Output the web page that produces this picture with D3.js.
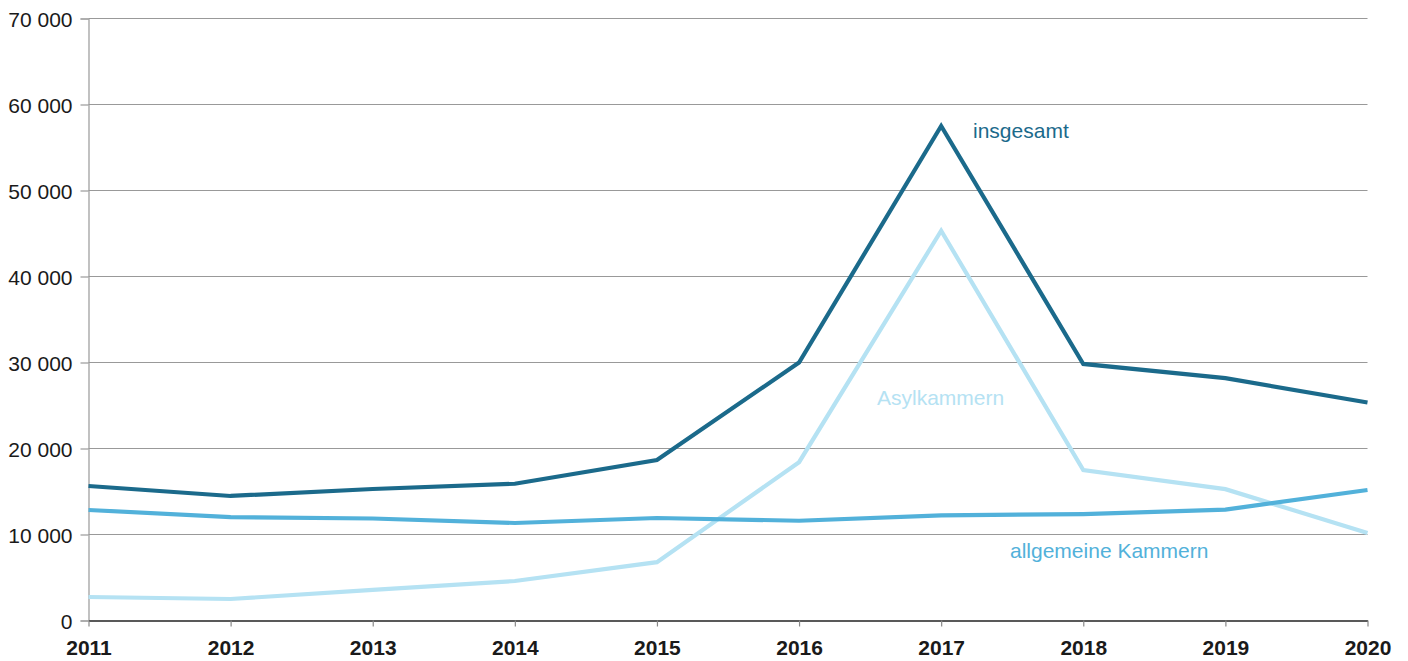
<!DOCTYPE html>
<html>
<head>
<meta charset="utf-8">
<script src="https://cdn.jsdelivr.net/npm/d3@7"></script>
<style>
  body { margin: 0; background: #fff; }
  svg { font-family: Helvetica, Arial, "Liberation Sans", sans-serif; }
</style>
</head>
<body>
<div id="chart"></div>
<script>
var years = [2011, 2012, 2013, 2014, 2015, 2016, 2017, 2018, 2019, 2020];
var insgesamt = [15640, 14480, 15290, 15900, 18660, 30000, 57500, 29830, 28180, 25350];
var allgemeine = [12850, 12030, 11860, 11340, 11920, 11600, 12230, 12380, 12890, 15170];
var asyl = [2730, 2500, 3550, 4590, 6780, 18410, 45320, 17500, 15270, 10170];
var yTicks = [0, 10000, 20000, 30000, 40000, 50000, 60000, 70000];

var svgWidth = 1408;
var svgHeight = 661;
var margin = { top: 18.5, right: 40.5, bottom: 40.5, left: 88.5 };
var chartWidth = svgWidth - margin.left - margin.right;
var chartHeight = svgHeight - margin.top - margin.bottom;

var svg = d3.select("#chart")
  .append("svg")
  .attr("width", svgWidth)
  .attr("height", svgHeight);

var chartGroup = svg.append("g")
  .attr("transform", `translate(${margin.left}, ${margin.top})`);

var xScale = d3.scalePoint()
  .domain(years)
  .range([0, chartWidth]);

var yScale = d3.scaleLinear()
  .domain([0, 70000])
  .range([chartHeight, 0]);

var fmt = d => d3.format(",")(d).replace(/,/g, " ");

// gridlines + left axis
var leftAxis = d3.axisLeft(yScale)
  .tickValues(yTicks)
  .tickSize(8)
  .tickFormat(fmt);

var yAxisG = chartGroup.append("g").call(leftAxis);
yAxisG.select(".domain").attr("stroke", "#999").attr("stroke-width", 1.2);
yAxisG.selectAll(".tick line").attr("stroke", "#999").attr("stroke-width", 1.2);
yAxisG.selectAll(".tick text")
  .attr("x", -16)
  .attr("dy", "0.36em")
  .attr("fill", "#1a1a1a")
  .style("font-size", "21px");

chartGroup.append("g")
  .selectAll("line")
  .data(yTicks.filter(d => d > 0))
  .enter()
  .append("line")
  .attr("x1", 0)
  .attr("x2", chartWidth)
  .attr("y1", d => yScale(d))
  .attr("y2", d => yScale(d))
  .attr("stroke", "#999")
  .attr("stroke-width", 1.2);

// bottom axis
var bottomAxis = d3.axisBottom(xScale).tickSize(6).tickSizeOuter(0);
var xAxisG = chartGroup.append("g")
  .attr("transform", `translate(0, ${chartHeight})`)
  .call(bottomAxis);
xAxisG.select(".domain").attr("stroke", "#222").attr("stroke-width", 1.5);
xAxisG.selectAll(".tick line").attr("stroke", "#888").attr("stroke-width", 1.2);
xAxisG.selectAll(".tick text")
  .attr("y", 34.5)
  .attr("dy", 0)
  .attr("fill", "#1a1a1a")
  .style("font-size", "21px")
  .style("font-weight", "bold");

// lines
var series = [
  { name: "Asylkammern", values: asyl, color: "#b5e2f3", lx: 877, ly: 405 },
  { name: "allgemeine Kammern", values: allgemeine, color: "#52b1da", lx: 1010, ly: 558 },
  { name: "insgesamt", values: insgesamt, color: "#1b6a8b", lx: 973, ly: 138 }
];

var line = d3.line()
  .x((d, i) => xScale(years[i]))
  .y(d => yScale(d));

chartGroup.selectAll(".series")
  .data(series)
  .enter()
  .append("path")
  .attr("class", "series")
  .attr("d", d => line(d.values))
  .attr("fill", "none")
  .attr("stroke", d => d.color)
  .attr("stroke-width", 4.2)
  .attr("stroke-linejoin", "miter");

svg.selectAll(".label")
  .data(series)
  .enter()
  .append("text")
  .attr("class", "label")
  .attr("x", d => d.lx)
  .attr("y", d => d.ly)
  .attr("fill", d => d.color)
  .style("font-size", "21px")
  .text(d => d.name);
</script>
</body>
</html>
